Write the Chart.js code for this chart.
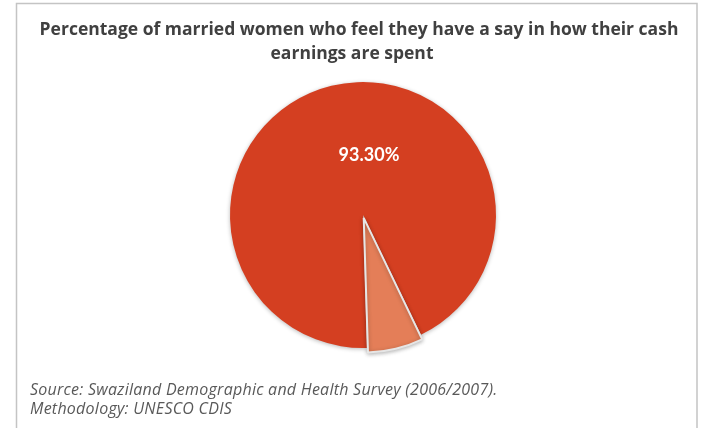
<!DOCTYPE html>
<html>
<head>
<meta charset="utf-8">
<script src="https://cdn.jsdelivr.net/npm/chart.js@4/dist/chart.umd.min.js"></script>
<style>
  html, body { margin: 0; padding: 0; background: #ffffff; }
  #wrap { position: relative; width: 702px; height: 428px; }
  canvas { display: block; }
</style>
</head>
<body>
<div id="wrap"><canvas id="pie" width="702" height="428"></canvas></div>
<script>
// Share of married women with a say in how their cash earnings are spent
const categories = ['Have a say', 'No say'];
const shares = [93.3, 6.7];
const sliceColors = ['#d43f21', '#e47e58'];

const titleLines = [
  'Percentage of married women who feel they have a say in how their cash',
  'earnings are spent'
];
const sourceLines = [
  'Source: Swaziland Demographic and Health Survey (2006/2007).',
  'Methodology: UNESCO CDIS'
];

// Frame, heading and footnote drawn around the pie
const decorations = {
  id: 'decorations',
  beforeDraw(chart) {
    const ctx = chart.ctx;
    ctx.save();
    ctx.fillStyle = '#ffffff';
    ctx.fillRect(0, 0, chart.width, chart.height);
    ctx.strokeStyle = '#c4c4c4';
    ctx.lineWidth = 1.5;
    ctx.beginPath();
    ctx.moveTo(16.5, 440);
    ctx.lineTo(16.5, 3.5);
    ctx.lineTo(697, 3.5);
    ctx.lineTo(697, 440);
    ctx.stroke();

    ctx.fillStyle = '#404040';
    ctx.font = 'bold 17.5px "Open Sans"';
    ctx.textAlign = 'center';
    ctx.textBaseline = 'alphabetic';
    ctx.fillText(titleLines[0], 359, 35);
    ctx.fillText(titleLines[1], 352, 59);

    ctx.fillStyle = '#595959';
    ctx.font = 'italic 16px "Open Sans"';
    if ('letterSpacing' in ctx) ctx.letterSpacing = '0.25px';
    ctx.textAlign = 'left';
    ctx.fillText(sourceLines[0], 30, 395);
    ctx.fillText(sourceLines[1], 30, 414);
    ctx.restore();
  }
};

// Soft drop shadow under the slices
const sliceShadow = {
  id: 'sliceShadow',
  beforeDatasetsDraw(chart) {
    const ctx = chart.ctx;
    ctx.save();
    ctx.shadowColor = 'rgba(0,0,0,0.28)';
    ctx.shadowBlur = 4;
    ctx.shadowOffsetX = 0;
    ctx.shadowOffsetY = 1;
  },
  afterDatasetsDraw(chart) {
    chart.ctx.restore();
  }
};

// Value label on the large slice
const valueLabel = {
  id: 'valueLabel',
  afterDraw(chart) {
    const arc = chart.getDatasetMeta(0).data[0];
    const ctx = chart.ctx;
    ctx.save();
    ctx.fillStyle = '#ffffff';
    ctx.font = 'bold 18px Lato';
    ctx.textAlign = 'center';
    ctx.textBaseline = 'alphabetic';
    ctx.fillText(shares[0].toFixed(2) + '%', arc.x + 6, arc.y - 54);
    ctx.restore();
  }
};

new Chart(document.getElementById('pie'), {
  type: 'pie',
  data: {
    labels: categories,
    datasets: [{
      data: shares,
      backgroundColor: sliceColors,
      borderColor: ['#d43f21', '#e6e6e6'],
      borderWidth: [0, 2],
      offset: [0, 12]
    }]
  },
  options: {
    responsive: false,
    animation: false,
    radius: 133,
    rotation: 178.3,
    layout: { padding: { left: 80, right: 56, top: 70, bottom: 68 } },
    plugins: {
      legend: { display: false },
      title: { display: false },
      tooltip: { enabled: false }
    }
  },
  plugins: [decorations, sliceShadow, valueLabel]
});
</script>
</body>
</html>
